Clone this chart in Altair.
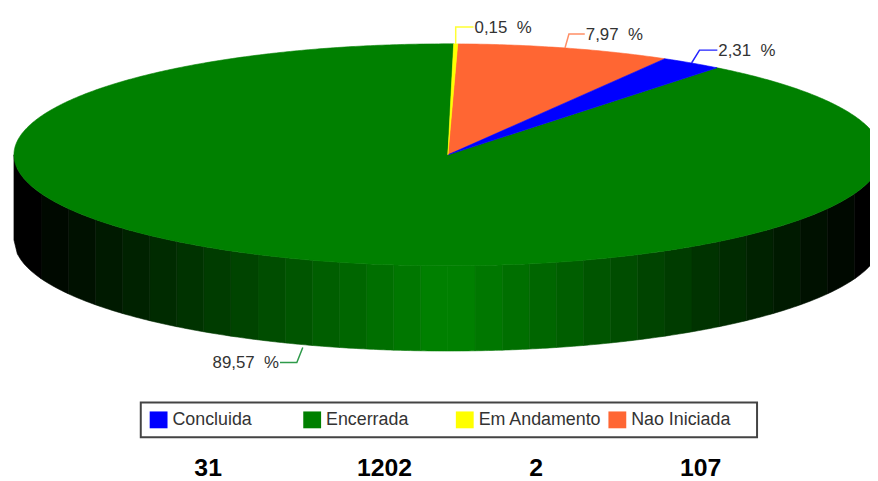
import math
import altair as alt
import pandas as pd

categories = ["Concluida", "Encerrada", "Em Andamento", "Nao Iniciada"]
counts = [31, 1202, 2, 107]
percent_labels = ["2,31\u00a0\u00a0%", "89,57\u00a0\u00a0%", "0,15\u00a0\u00a0%", "7,97\u00a0\u00a0%"]
colors = ["#0000FF", "#008000", "#FFFF00", "#FF6633"]
leader_colors = ["#2222FF", "#2E9A4A", "#FFFF33", "#FF8F66"]

# page-pixel layout of the tilted pie
CX, CY, A, B, DEPTH = 452.0, 154.0, 438.0, 112.0, 86.0
START_DEG = 60.0
N_BANDS = 16
W, H = 870, 473

xs = alt.X("x:Q", axis=None, scale=alt.Scale(domain=[8, 8 + W]))
ys = alt.Y("y:Q", axis=None, scale=alt.Scale(domain=[8 + H, 8]))


def rim(deg):
    t = math.radians(deg)
    return CX + A * math.cos(t), CY - B * math.sin(t)


def polygon(pts, fill):
    df = pd.DataFrame({"x": [p[0] for p in pts], "y": [p[1] for p in pts], "i": range(len(pts))})
    return alt.Chart(df).mark_line(fill=fill, stroke=fill, strokeWidth=0.6, clip=True,
                                   interpolate="linear").encode(x=xs, y=ys, order="i:Q")


total = sum(counts)
spans, a0 = [], START_DEG
for c in counts:
    a1 = a0 - 360.0 * c / total
    spans.append((a0, a1))
    a0 = a1

layers = []

# side wall, shaded in vertical bands
band_w = A / N_BANDS
for side in (-1, 1):
    for k in range(N_BANDS):
        g = round(128 * max(0, N_BANDS - 1 - k) / (N_BANDS - 1))
        d0, d1 = k * band_w, (k + 1) * band_w
        top = []
        for j in range(9):
            d = d0 + (d1 - d0) * j / 8
            yy = CY + B * math.sqrt(max(0.0, 1 - (d / A) ** 2))
            top.append((CX + side * d, yy))
        bottom = [(x, y + DEPTH) for x, y in reversed(top)]
        layers.append(polygon(top + bottom + [top[0]], f"#00{g:02x}00"))

# top face wedges
for idx in [1, 3, 0, 2]:
    s, e = spans[idx]
    n = max(2, int(abs(s - e) * 2))
    pts = [(CX, CY)] + [rim(s + (e - s) * j / n) for j in range(n + 1)] + [(CX, CY)]
    layers.append(polygon(pts, colors[idx]))

# leader lines and percent labels
leader_geom = [(8, -13, 18), (-6, 15, -17), (0, -17, 18), (4, -14, 16)]
label_rows = []
for idx in range(4):
    s, e = spans[idx]
    x0, y0 = rim((s + e) / 2)
    if idx == 1:
        y0 += DEPTH + 3
    dx1, dy1, dx2 = leader_geom[idx]
    pts = [(x0, y0), (x0 + dx1, y0 + dy1), (x0 + dx1 + dx2, y0 + dy1)]
    df = pd.DataFrame({"x": [p[0] for p in pts], "y": [p[1] for p in pts], "i": [0, 1, 2]})
    layers.append(
        alt.Chart(df).mark_line(color=leader_colors[idx], strokeWidth=1.5,
                                interpolate="linear").encode(x=xs, y=ys, order="i:Q")
    )
    end_x, end_y = pts[-1]
    label_rows.append({"x": end_x + 1 if dx2 > 0 else end_x - 1, "y": end_y + 1,
                       "t": percent_labels[idx], "al": "left" if dx2 > 0 else "right"})
for al in ("left", "right"):
    layers.append(
        alt.Chart(pd.DataFrame([r for r in label_rows if r["al"] == al])).mark_text(
            align=al, baseline="middle", font="Liberation Sans", fontSize=17,
            color="#333333"
        ).encode(x=xs, y=ys, text="t:N")
    )

# legend frame, swatches and labels
box = pd.DataFrame({"x": [142], "x2": [764], "y": [404], "y2": [439]})
layers.append(
    alt.Chart(box).mark_rect(fill="white", stroke="#444444", strokeWidth=2).encode(
        x=xs, x2="x2:Q", y=ys, y2="y2:Q")
)
leg_x = [151, 306, 460, 614]
sw = pd.DataFrame({"x": leg_x, "x2": [v + 18 for v in leg_x], "y": [413] * 4,
                   "y2": [430] * 4, "c": colors})
layers.append(
    alt.Chart(sw).mark_rect().encode(x=xs, x2="x2:Q", y=ys, y2="y2:Q",
                                     color=alt.Color("c:N", scale=None))
)
lab = pd.DataFrame({"x": [v + 23 for v in leg_x], "y": [422] * 4, "t": categories})
layers.append(
    alt.Chart(lab).mark_text(align="left", baseline="middle", font="Liberation Sans",
                             fontSize=18, color="#333333").encode(x=xs, y=ys, text="t:N")
)

# counts under the legend
count_x = [210, 388, 541, 707]
cnt = pd.DataFrame({"x": count_x, "y": [470] * 4, "t": [str(c) for c in counts]})
layers.append(
    alt.Chart(cnt).mark_text(align="center", baseline="middle", font="Liberation Sans",
                             fontWeight="bold", fontSize=25, color="black").encode(
        x=xs, y=ys, text="t:N")
)

chart = alt.layer(*layers).properties(
    width=W, height=H, padding=0, autosize=alt.AutoSizeParams(type="none"),
    background="white",
).configure_view(stroke=None)

chart.save("out.html", embed_options={"renderer": "svg", "actions": False})
